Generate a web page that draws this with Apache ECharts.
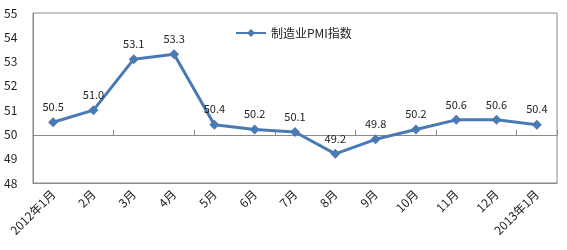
<!DOCTYPE html>
<html><head><meta charset="utf-8">
<script src="https://cdn.jsdelivr.net/npm/echarts@6/dist/echarts.min.js"></script>
<style>html,body{margin:0;padding:0;background:#fff}#c{width:567px;height:250px}</style>
</head><body><div id="c"></div>
<script>
const categories = ['2012年1月','2月','3月','4月','5月','6月','7月','8月','9月','10月','11月','12月','2013年1月'];
const pmiValues = [50.5, 51.0, 53.1, 53.3, 50.4, 50.2, 50.1, 49.2, 49.8, 50.2, 50.6, 50.6, 50.4];
const seriesName = '制造业PMI指数';
const yTicks = [48, 49, 50, 51, 52, 53, 54, 55];

const font = '"Noto Sans CJK SC", "Noto Sans", sans-serif';
const chart = echarts.init(document.getElementById('c'));
chart.setOption({
  animation: false,
  backgroundColor: '#fff',
  textStyle: { fontFamily: font },
  legend: {
    data: [seriesName],
    left: 230, top: 22,
    itemWidth: 30, itemHeight: 10, itemGap: 2,
    textStyle: { fontSize: 12, color: '#222', fontFamily: font }
  },
  grid: [
    { left: 33, right: 10, top: 13, bottom: 67, show: true, borderColor: '#8a8a8a', borderWidth: 1 },
    { left: 33, right: 10, top: 13, bottom: 115, show: false }
  ],
  xAxis: [
    {
      type: 'category', gridIndex: 0, data: categories, boundaryGap: true,
      axisLine: { show: true, lineStyle: { color: '#8a8a8a' } },
      axisTick: { show: false },
      axisLabel: { rotate: 45, fontSize: 12, color: '#222', margin: 9, interval: 0, fontFamily: font }
    },
    {
      type: 'category', gridIndex: 1, data: categories, boundaryGap: true,
      axisLine: { show: true, lineStyle: { color: '#8a8a8a' } },
      axisTick: { show: true, inside: true, length: 5, lineStyle: { color: '#8a8a8a' } },
      axisLabel: { show: false }
    }
  ],
  yAxis: [
    {
      type: 'value', gridIndex: 0, min: yTicks[0], max: yTicks[yTicks.length - 1], interval: 1,
      axisLine: { show: true, lineStyle: { color: '#8a8a8a' } },
      axisTick: { show: false },
      splitLine: { show: false },
      axisLabel: { fontSize: 12, color: '#222', margin: 29, align: 'left',
        formatter: v => String(v) }
    },
    { type: 'value', gridIndex: 1, min: 0, max: 1, show: false }
  ],
  series: [{
    name: seriesName, type: 'line', xAxisIndex: 0, yAxisIndex: 0,
    data: pmiValues,
    symbol: 'diamond', symbolSize: 10,
    lineStyle: { width: 3, color: '#4a7ab5' },
    itemStyle: { color: '#4a7ab5' },
    label: { show: true, position: 'top', distance: 5, fontSize: 11, color: '#222',
      formatter: p => p.value.toFixed(1), fontFamily: font }
  }]
});
</script></body></html>
